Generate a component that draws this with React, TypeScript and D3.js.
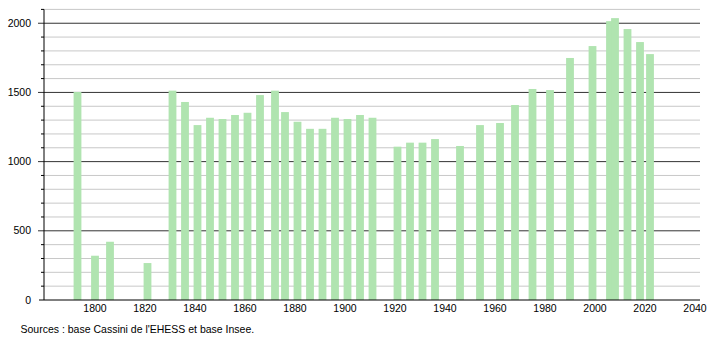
import React from "react";
import * as d3 from "d3";

const years = [1793, 1800, 1806, 1821, 1831, 1836, 1841, 1846, 1851, 1856, 1861, 1866, 1872, 1876, 1881, 1886, 1891, 1896, 1901, 1906, 1911, 1921, 1926, 1931, 1936, 1946, 1954, 1962, 1968, 1975, 1982, 1990, 1999, 2006, 2008, 2013, 2018, 2022];
const population = [1503, 320, 421, 267, 1513, 1431, 1264, 1317, 1308, 1337, 1353, 1481, 1513, 1358, 1288, 1237, 1237, 1317, 1308, 1337, 1317, 1108, 1137, 1137, 1163, 1113, 1264, 1279, 1409, 1525, 1517, 1749, 1835, 2015, 2037, 1958, 1864, 1777];
const xTicks = [1800, 1820, 1840, 1860, 1880, 1900, 1920, 1940, 1960, 1980, 2000, 2020, 2040];
const yMajor = [0, 500, 1000, 1500, 2000];
const sourceText = "Sources : base Cassini de l'EHESS et base Insee.";

export default function App() {
  const W = 710, H = 340;
  const x = d3.scaleLinear().domain([1780, 2040]).range([45, 695]);
  const y = d3.scaleLinear().domain([0, 2100]).range([300, 9.4]);
  const minor = d3.range(100, 2101, 100).filter((v) => v % 500 !== 0);
  const font = "'Liberation Sans', Arial, sans-serif";
  const bw = 7.8;
  return (
    <svg width={W} height={H} style={{ position: "absolute", left: 0, top: 0 }}>
      <rect width={W} height={H} fill="#fff" />
      {minor.map((v) => (
        <g key={"m" + v}>
          <line x1={44} x2={700} y1={y(v)} y2={y(v)} stroke="#c8c8c8" strokeWidth={1} />
          <line x1={41} x2={44} y1={y(v)} y2={y(v)} stroke="#000" strokeWidth={1} />
        </g>
      ))}
      {yMajor.filter((v) => v > 0).map((v) => (
        <line key={"M" + v} x1={38} x2={700} y1={y(v)} y2={y(v)} stroke="#333" strokeWidth={1} />
      ))}
      {years.map((yr, i) => (
        <rect key={yr} x={x(yr) - bw / 2} y={y(population[i])} width={bw} height={y(0) - y(population[i])} fill="#b0e4b0" />
      ))}
      <line x1={44} x2={44} y1={y(2100)} y2={300} stroke="#000" strokeWidth={1} />
      <line x1={39} x2={700} y1={300} y2={300} stroke="#000" strokeWidth={1} />
      {yMajor.map((v) => (
        <text key={"yl" + v} x={31} y={y(v)} dy="0.35em" textAnchor="end" fontFamily={font} fontSize={10.5} fill="#000">{v}</text>
      ))}
      {xTicks.map((t) => (
        <text key={"xl" + t} x={x(t)} y={308} dy="0.35em" textAnchor="middle" fontFamily={font} fontSize={10.5} fill="#000">{t}</text>
      ))}
      <text x={20.5} y={329} dy="0.35em" fontFamily={font} fontSize={10.5} fill="#000">{sourceText}</text>
    </svg>
  );
}
